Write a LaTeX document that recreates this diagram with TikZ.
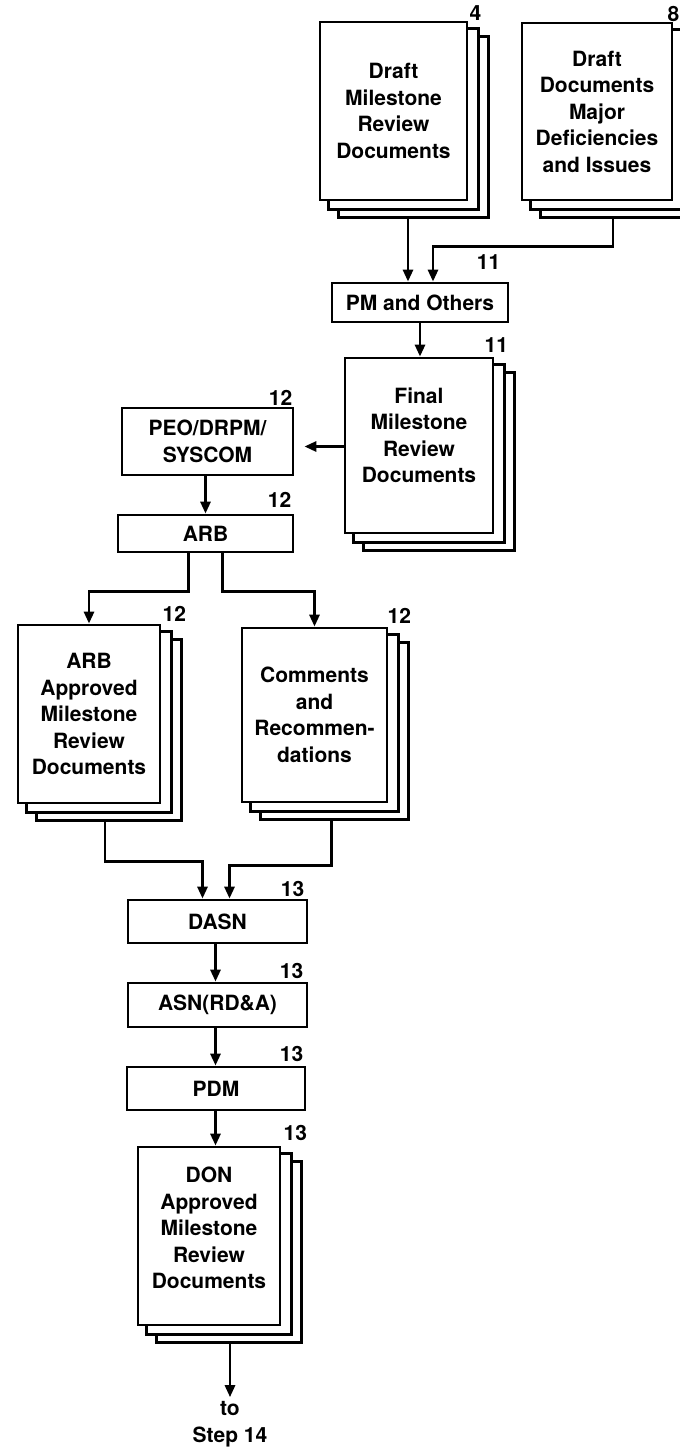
\documentclass[tikz,border=0pt]{standalone}
\usepackage{fontspec}
\setmainfont{TeX Gyre Heros}
\usetikzlibrary{arrows.meta,backgrounds}
\newcommand{\dfont}{\fontsize{21}{26.5}\selectfont\bfseries}
\tikzset{
  docpage/.style={draw, fill=white, line width=2.8pt, align=center, inner sep=2pt, font=\dfont},
  page/.style={draw, fill=white, line width=2.6pt},
  boxnode/.style={draw, fill=white, line width=2.8pt, align=center, inner sep=2pt, font=\dfont},
  num/.style={inner sep=0pt, font=\dfont},
  arr/.style={line width=2.8pt, -{Triangle[length=12pt,width=10pt]}},
}
\begin{document}
\begin{tikzpicture}[x=1pt,y=-1pt]
\useasboundingbox (0,0) rectangle (680,1454);
\clip (0,0) rectangle (680,1454);
% documents and boxes
\node[docpage, minimum width=147pt, minimum height=178pt] (d1) at (393.5,111) {Draft\\Milestone\\Review\\Documents};
\node[docpage, minimum width=150pt, minimum height=177pt] (d2) at (597,111.5) {Draft\\Documents\\Major\\Deficiencies\\and Issues};
\node[boxnode, minimum width=176pt, minimum height=39pt] (pm) at (420,302.5) {PM and Others};
\node[docpage, minimum width=148pt, minimum height=175pt] (fm) at (419,445.5) {Final\\Milestone\\Review\\Documents\\[-6pt]\mbox{}};
\node[boxnode, minimum width=171pt, minimum height=67pt] (peo) at (207.5,441.5) {PEO/DRPM/\\SYSCOM};
\node[boxnode, minimum width=175pt, minimum height=37pt] (arb) at (205.5,533.5) {ARB};
\node[docpage, minimum width=142pt, minimum height=178pt] (arbd) at (89,714) {ARB\\Approved\\Milestone\\Review\\Documents};
\node[docpage, minimum width=145pt, minimum height=174pt] (cmt) at (314.5,715) {Comments\\and\\Recommen-\\dations};
\node[boxnode, minimum width=179pt, minimum height=43pt] (dasn) at (217.5,921.5) {DASN};
\node[boxnode, minimum width=179pt, minimum height=44pt] (asn) at (217.5,1005) {ASN(RD\&A)};
\node[boxnode, minimum width=178pt, minimum height=43pt] (pdm) at (216,1088.5) {PDM};
\node[docpage, minimum width=142pt, minimum height=178pt] (don) at (209,1236) {DON\\Approved\\Milestone\\Review\\Documents\\[-10pt]\mbox{}};
\node[num, align=center] (to) at (230,1424) {to\\Step 14};
% back pages of the stacks
\begin{scope}[on background layer]
\foreach \n in {d1,d2,fm,arbd,cmt,don}{
  \draw[page] ([shift={(20pt,-16pt)}]\n.south west) rectangle ([shift={(20pt,-16pt)}]\n.north east);
  \draw[page] ([shift={(10pt,-8pt)}]\n.south west) rectangle ([shift={(10pt,-8pt)}]\n.north east);
}
\end{scope}
% step numbers
\node[num, anchor=south west] (n4) at ([xshift=1pt]d1.north east) {4};
\node[num, anchor=south east] (n8) at (679.5,22) {8};
\node[num, anchor=south east] (n11a) at ([shift={(-9pt,12pt)}]pm.north east) {11};
\node[num, anchor=south] (n11b) at ([shift={(2pt,4pt)}]fm.north east) {11};
\node[num, anchor=south east] (n12a) at ([shift={(-2pt,1pt)}]peo.north east) {12};
\node[num, anchor=south east] (n12b) at ([shift={(-3pt,6pt)}]arb.north east) {12};
\node[num, anchor=south west] (n12c) at ([shift={(1pt,2pt)}]arbd.north east) {12};
\node[num, anchor=south west] (n12d) at ([shift={(-1pt,3pt)}]cmt.north east) {12};
\node[num, anchor=south east] (n13a) at ([shift={(-4pt,2pt)}]dasn.north east) {13};
\node[num, anchor=south east] (n13b) at ([shift={(-5pt,3pt)}]asn.north east) {13};
\node[num, anchor=south east] (n13c) at ([shift={(-3pt,4pt)}]pdm.north east) {13};
\node[num, anchor=south west] (n13d) at ([shift={(2pt,5pt)}]don.north east) {13};
% connectors
\coordinate (pm1) at ([xshift=-12pt]pm.north);
\coordinate (pm2) at ([xshift=13pt]pm.north);
\coordinate (d1b) at ([yshift=-16pt]d1.south);
\draw[arr] (d1b -| pm1) -- (pm1);
\draw[arr] ([shift={(16pt,-16pt)}]d2.south) -- ++(0,29) -| (pm2);
\draw[arr] (pm.south) -- (pm.south |- fm.north);
\coordinate (pe1) at ([yshift=-5pt]peo.east);
\draw[arr, shorten >=10pt] (fm.west |- pe1) -- (pe1);
\draw[arr] (peo.south -| arb.north) -- (arb.north);
\draw[arr] ([xshift=-17pt]arb.south) -- ++(0,38) -| (arbd.north);
\draw[arr] ([xshift=17pt]arb.south) -- ++(0,38) -| (cmt.north);
\coordinate (da1) at ([xshift=-15pt]dasn.north);
\coordinate (da2) at ([xshift=12pt]dasn.north);
\draw[arr] ([shift={(16pt,-16pt)}]arbd.south) -- ++(0,41) -| (da1);
\draw[arr] ([shift={(17pt,-16pt)}]cmt.south) -- ++(0,46) -| (da2);
\coordinate (c1) at ([xshift=-2pt]dasn.south);
\draw[arr] (c1) -- (c1 |- asn.north);
\draw[arr] (c1 |- asn.south) -- (c1 |- pdm.north);
\draw[arr] (c1 |- pdm.south) -- (c1 |- don.north);
\coordinate (donb) at ([yshift=-18pt]don.south);
\draw[arr] (donb -| to.north) -- ([yshift=4pt]to.north);
\end{tikzpicture}
\end{document}
